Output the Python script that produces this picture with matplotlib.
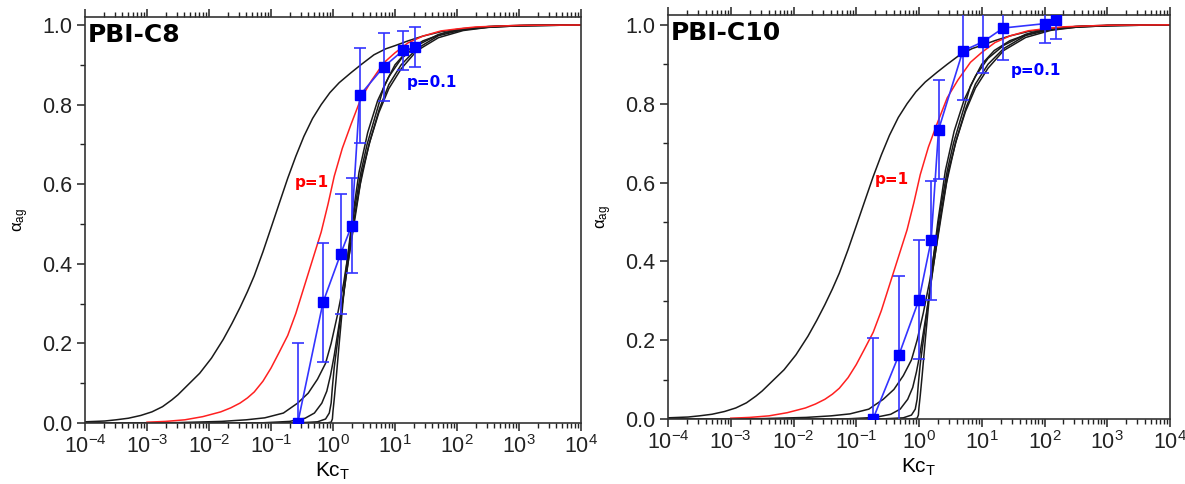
import matplotlib
matplotlib.use('Agg')
import numpy as np
import matplotlib.pyplot as plt
from matplotlib.ticker import FixedLocator, MultipleLocator

plt.rcParams['font.family'] = ['Liberation Sans', 'DejaVu Sans']
plt.rcParams['mathtext.fontset'] = 'custom'
plt.rcParams['mathtext.rm'] = 'Liberation Sans'
plt.rcParams['mathtext.it'] = 'Liberation Sans:italic'
plt.rcParams['mathtext.default'] = 'regular'

# model curves (log10 Kc_T, alpha_ag)
log_a = [-4, -3.68, -3.5, -3.3, -3.1, -2.92, -2.75, -2.6, -2.5, -2.39, -2.15, -1.96, -1.77, -1.63,
         -1.5, -1.38, -1.27, -1.13, -1.0, -0.86, -0.73, -0.6, -0.47, -0.33, -0.19, -0.05,
         0.1, 0.29, 0.45, 0.66, 0.85, 1.0, 1.21, 1.45, 1.74, 2.1, 2.53, 3.2, 4]
alpha_a = [0.003, 0.005, 0.008, 0.012, 0.019, 0.028, 0.041, 0.058, 0.071, 0.088, 0.125, 0.163, 0.21, 0.25,
           0.29, 0.33, 0.37, 0.43, 0.49, 0.555, 0.615, 0.67, 0.72, 0.765, 0.80, 0.83,
           0.855, 0.88, 0.90, 0.925, 0.94, 0.948, 0.96, 0.972, 0.983, 0.991, 0.996, 0.999, 1.0]

log_b = [-4, -2.5, -1.8, -1.4, -1.1, -0.8, -0.57, -0.4, -0.25, -0.12, -0.03, 0.07, 0.17, 0.25,
         0.34, 0.45, 0.55, 0.68, 0.82, 1.0, 1.2, 1.45, 1.8, 2.2, 2.6, 3.0, 4.0]
alpha_b = [0.0, 0.001, 0.004, 0.008, 0.013, 0.025, 0.05, 0.075, 0.11, 0.15, 0.2, 0.27, 0.35, 0.43,
           0.53, 0.63, 0.7, 0.77, 0.845, 0.9, 0.935, 0.96, 0.98, 0.991, 0.996, 0.998, 1.0]

log_c = [-4, -1.2, -0.7, -0.45, -0.3, -0.18, -0.1, -0.04, 0.02, 0.08, 0.16, 0.25, 0.35, 0.47,
         0.6, 0.75, 0.9, 1.1, 1.35, 1.7, 2.1, 2.5, 3, 4]
alpha_c = [0.0, 0.0, 0.004, 0.012, 0.025, 0.05, 0.08, 0.12, 0.17, 0.23, 0.31, 0.41, 0.52, 0.63,
           0.71, 0.79, 0.85, 0.9, 0.94, 0.973, 0.988, 0.994, 0.998, 1.0]

log_d = [-4, -0.6, -0.25, -0.12, -0.06, -0.03, -0.01, 0.02, 0.07, 0.14, 0.22, 0.32, 0.44, 0.58,
         0.74, 0.9, 1.1, 1.35, 1.7, 2.1, 2.5, 3, 4]
alpha_d = [0.0, 0.0, 0.003, 0.01, 0.025, 0.05, 0.09, 0.14, 0.2, 0.29, 0.38, 0.48, 0.6, 0.7,
           0.78, 0.84, 0.89, 0.935, 0.968, 0.986, 0.994, 0.998, 1.0]

log_e = [-4, -0.1, -0.03, -0.01, 0.0, 0.02, 0.05, 0.1, 0.2, 0.3, 0.42, 0.56, 0.72, 0.9, 1.1,
         1.35, 1.7, 2.0, 2.5, 3, 4]
alpha_e = [0.0, 0.0, 0.002, 0.01, 0.03, 0.06, 0.11, 0.2, 0.37, 0.5, 0.63, 0.73, 0.81, 0.87, 0.915,
           0.948, 0.976, 0.988, 0.996, 0.999, 1.0]

log_red = [-3.0, -2.7, -2.39, -2.1, -1.81, -1.65, -1.5, -1.38, -1.27, -1.13, -1.0, -0.87, -0.73,
           -0.6, -0.47, -0.33, -0.19, -0.08, 0.02, 0.15, 0.29, 0.45, 0.62, 0.82, 1.0, 1.21,
           1.45, 1.74, 2.0, 2.3, 3, 4]
alpha_red = [0.002, 0.004, 0.008, 0.016, 0.028, 0.038, 0.05, 0.063, 0.078, 0.105, 0.138, 0.177, 0.22,
             0.275, 0.34, 0.41, 0.48, 0.55, 0.62, 0.69, 0.75, 0.815, 0.86, 0.905, 0.93, 0.955,
             0.972, 0.985, 0.99, 0.995, 0.999, 1.0]

# measured points
c8_kc = [0.27, 0.69, 1.33, 2.0, 2.7, 6.6, 13.5, 21]
c8_alpha = [0.0, 0.303, 0.425, 0.496, 0.823, 0.895, 0.936, 0.944]
c8_err = [0.20, 0.15, 0.15, 0.12, 0.12, 0.085, 0.05, 0.05]

c10_kc = [0.185, 0.48, 1.0, 1.56, 2.05, 5.0, 10.5, 22, 100, 150]
c10_alpha = [0.0, 0.163, 0.303, 0.453, 0.734, 0.934, 0.957, 0.992, 1.003, 1.013]
c10_err = [0.205, 0.2, 0.15, 0.15, 0.125, 0.125, 0.08, 0.08, 0.05, 0.05]

decades = [-4, -3, -2, -1, 0, 1, 2, 3, 4]

fig = plt.figure(figsize=(11.85, 4.84), dpi=100)
ax1 = fig.add_axes([85/1185, 61/484, 496/1185, 406/484])
ax2 = fig.add_axes([668/1185, 65/484, 502/1185, 404/484])


def draw(ax, kc, alpha, err, name, ytop, p1_xy, p01_xy):
    for lx, al in [(log_a, alpha_a), (log_b, alpha_b), (log_c, alpha_c),
                   (log_d, alpha_d), (log_e, alpha_e)]:
        ax.plot(np.power(10.0, lx), al, color='#1a1a1a', lw=1.1)
    ax.plot(np.power(10.0, log_red), alpha_red, color='#ff2020', lw=1.1)
    ax.errorbar(kc, alpha, yerr=err, fmt='-s', color='#3333ff', mfc='#0000ff', mec='#0000ff',
                ms=6.5, lw=1.2, elinewidth=1.2, capsize=4, capthick=1.2, zorder=5)

    ax.set_xscale('log')
    ax.set_xlim(1e-4, 1e4)
    ax.set_ylim(0, ytop)
    ax.xaxis.set_major_locator(FixedLocator([10.0 ** d for d in decades]))
    ax.set_xticklabels([r'$10^{%d}$' % d for d in decades])
    ax.xaxis.set_minor_locator(FixedLocator([m * 10.0 ** d for d in decades[:-1] for m in range(2, 10)]))
    ax.yaxis.set_major_locator(MultipleLocator(0.2))
    ax.yaxis.set_minor_locator(MultipleLocator(0.1))
    ax.yaxis.set_major_formatter(plt.FormatStrFormatter('%.1f'))
    ax.tick_params(axis='both', which='major', direction='out', length=6, width=1.1,
                   labelsize=15.5, colors='#222222', pad=3)
    ax.tick_params(axis='both', which='minor', direction='out', length=3.5, width=1.0, colors='#222222')
    ax.tick_params(axis='x', which='both', top=True)
    for s in ax.spines.values():
        s.set_linewidth(1.2)
        s.set_color('#333333')

    ax.set_xlabel(r'Kc$_T$', fontsize=15, labelpad=2)
    ax.set_ylabel(r'$\alpha_{ag}$', fontsize=12, labelpad=8)

    ax.text(0.006, 0.985, name, transform=ax.transAxes, fontsize=18, fontweight='bold',
            family='DejaVu Sans', ha='left', va='top')
    ax.text(p1_xy[0], p1_xy[1], 'p=1', color='#ff0000', fontsize=11, fontweight='bold',
            family='DejaVu Sans', ha='center', va='center')
    ax.text(p01_xy[0], p01_xy[1], 'p=0.1', color='#0000ff', fontsize=11, fontweight='bold',
            family='DejaVu Sans', ha='center', va='center')


draw(ax1, c8_kc, c8_alpha, c8_err, 'PBI-C8', 1.02, (0.45, 0.605), (40, 0.855))
draw(ax2, c10_kc, c10_alpha, c10_err, 'PBI-C10', 1.025, (0.37, 0.607), (73, 0.885))

fig.savefig('out.png', dpi=100)
